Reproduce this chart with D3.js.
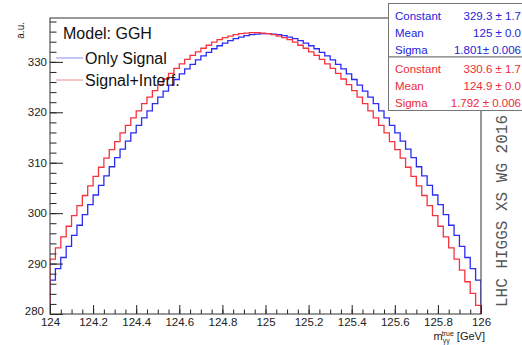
<!DOCTYPE html>
<html>
<head>
<meta charset="utf-8">
<script src="https://cdn.jsdelivr.net/npm/d3@7"></script>
<style>
  body { margin: 0; background: #fff; }
  svg { display: block; font-family: "Liberation Sans", Arial, Helvetica, sans-serif; }
</style>
</head>
<body>
<div id="chart"></div>
<script>
/* m_gg lineshape, GGH: only signal vs signal + interference */

// 80 bins of 0.025 GeV from 124 to 126
const onlySignal = [
  286.7, 289.0, 291.2, 293.4, 295.6, 297.6, 299.7, 301.7, 303.6, 305.5,
  307.4, 309.2, 311.0, 312.7, 314.3, 315.9, 317.4, 318.9, 320.3, 321.7,
  323.0, 324.2, 325.4, 326.5, 327.6, 328.6, 329.5, 330.4, 331.2, 331.9,
  332.6, 333.2, 333.7, 334.2, 334.6, 334.9, 335.2, 335.4, 335.5, 335.6,
  335.6, 335.5, 335.4, 335.2, 334.9, 334.6, 334.2, 333.7, 333.2, 332.6,
  331.9, 331.2, 330.4, 329.5, 328.6, 327.6, 326.5, 325.4, 324.2, 323.0,
  321.7, 320.3, 318.9, 317.4, 315.9, 314.3, 312.7, 311.0, 309.2, 307.4,
  305.5, 303.6, 301.7, 299.7, 297.6, 295.6, 293.4, 291.2, 289.0, 286.7
];
const signalInterf = [
  290.9, 293.1, 295.3, 297.4, 299.5, 301.5, 303.5, 305.4, 307.3, 309.1,
  310.9, 312.6, 314.2, 315.9, 317.4, 318.9, 320.3, 321.7, 323.0, 324.3,
  325.5, 326.6, 327.7, 328.7, 329.6, 330.5, 331.3, 332.0, 332.7, 333.3,
  333.9, 334.4, 334.8, 335.1, 335.4, 335.6, 335.7, 335.8, 335.8, 335.7,
  335.6, 335.4, 335.1, 334.8, 334.4, 333.9, 333.3, 332.7, 332.0, 331.3,
  330.5, 329.6, 328.7, 327.7, 326.6, 325.5, 324.3, 323.0, 321.7, 320.3,
  318.9, 317.4, 315.9, 314.2, 312.6, 310.9, 309.1, 307.3, 305.4, 303.5,
  301.5, 299.5, 297.4, 295.3, 293.1, 290.9, 288.7, 286.4, 284.1, 281.7
];

const xMin = 124, xMax = 126, binWidth = 0.025;
const yMin = 280, yMax = 338.7;
const xMajorTicks = [124, 124.2, 124.4, 124.6, 124.8, 125, 125.2, 125.4, 125.6, 125.8, 126];
const yMajorTicks = [280, 290, 300, 310, 320, 330];

const statsLabels = ["Constant", "Mean", "Sigma"];
const statsSignal = ["329.3 ± 1.7", "125 ± 0.0", "1.801± 0.006"];
const statsInterf = ["330.6 ± 1.7", "124.9 ± 0.0", "1.792 ± 0.006"];

const width = 522, height = 345,
    margin = ({ top: 18, right: 41, bottom: 31, left: 50 });

const blue = "#2b2bf5", red = "#f5333f";

const svg = d3.select("#chart")
    .append("svg")
    .attr("width", width)
    .attr("height", height);

let x = d3.scaleLinear()
    .domain([xMin, xMax])
    .range([margin.left, width - margin.right]);

let y = d3.scaleLinear()
    .domain([yMin, yMax])
    .range([height - margin.bottom, margin.top]);

svg.append("clipPath").attr("id", "plot")
  .append("rect")
    .attr("x", x(xMin)).attr("y", y(yMax))
    .attr("width", x(xMax) - x(xMin))
    .attr("height", y(yMin) - y(yMax));

// histogram outline: drop to the baseline at both ends, steps in between
function outline(vals) {
    let pts = [[xMin, yMin]];
    vals.forEach((v, i) => pts.push([xMin + i * binWidth, v]));
    pts.push([xMax, vals[vals.length - 1]]);
    pts.push([xMax, yMin]);
    return pts;
}

let line = d3.line()
    .x(d => x(d[0]))
    .y(d => y(d[1]))
    .curve(d3.curveStepAfter);

const hists = svg.append("g").attr("clip-path", "url(#plot)");

hists.append("path")
    .datum(outline(onlySignal))
    .attr("d", line)
    .attr("fill", "none")
    .attr("stroke", blue)
    .attr("stroke-width", 1.3);

hists.append("path")
    .datum(outline(signalInterf))
    .attr("d", line)
    .attr("fill", "none")
    .attr("stroke", red)
    .attr("stroke-width", 1.3);

// axes: ticks point inward like ROOT
const xMinor = d3.range(0, 41).map(i => xMin + i * 0.05);
const yMinor = d3.range(0, 30).map(i => yMin + i * 2);

svg.append("g")
    .attr("transform", `translate(0,${y(yMin)})`)
    .call(d3.axisBottom(x).tickValues(xMinor).tickSize(-4.5).tickFormat(""))
    .call(g => g.select(".domain").remove());

svg.append("g")
    .attr("class", "x-axis")
    .attr("transform", `translate(0,${y(yMin)})`)
    .call(d3.axisBottom(x).tickValues(xMajorTicks).tickSize(-9).tickPadding(4)
        .tickFormat(d => d3.format("")(+d.toFixed(1))))
    .call(g => g.select(".domain").remove());

svg.append("g")
    .attr("transform", `translate(${x(xMin)},0)`)
    .call(d3.axisLeft(y).tickValues(yMinor).tickSize(-6.5).tickFormat(""))
    .call(g => g.select(".domain").remove());

svg.append("g")
    .attr("class", "y-axis")
    .attr("transform", `translate(${x(xMin)},0)`)
    .call(d3.axisLeft(y).tickValues(yMajorTicks).tickSize(-13).tickPadding(3))
    .call(g => g.select(".domain").remove());

svg.selectAll(".x-axis text, .y-axis text")
    .attr("font-size", 11.5)
    .attr("font-family", "Liberation Sans, Arial, sans-serif")
    .attr("fill", "#222");
svg.selectAll(".tick line").attr("stroke", "#222");

// the lowest y label sits just above the "124" label
svg.selectAll(".y-axis .tick text")
    .filter(d => d === yMin)
    .attr("dy", "0.05em")
    .attr("x", -6);

// frame
svg.append("rect")
    .attr("x", x(xMin)).attr("y", y(yMax))
    .attr("width", x(xMax) - x(xMin))
    .attr("height", y(yMin) - y(yMax))
    .attr("fill", "none")
    .attr("stroke", "#333")
    .attr("stroke-width", 1);

// axis titles
const xt = svg.append("text")
    .attr("x", x(xMax) + 4)
    .attr("y", 340)
    .attr("text-anchor", "end")
    .attr("font-size", 11)
    .attr("fill", "#222");
xt.append("tspan").text("m");
xt.append("tspan").attr("font-size", 7).attr("dy", 2.5).text("γγ");
xt.append("tspan").attr("font-size", 7).attr("dx", -8).attr("dy", -7).text("true");
xt.append("tspan").attr("dy", 4.5).text(" [GeV]");

svg.append("text")
    .attr("transform", "translate(24,22) rotate(-90)")
    .attr("text-anchor", "end")
    .attr("font-size", 10)
    .attr("fill", "#222")
    .text("a.u.");

// legend
svg.append("text")
    .attr("x", 63).attr("y", 38.5)
    .attr("font-size", 16).attr("fill", "#111")
    .text("Model: GGH");

const legend = [
    { label: "Only Signal", color: "#8a8af0", y: 58 },
    { label: "Signal+Interf.", color: "#f08a90", y: 80 }
];
legend.forEach(d => {
    svg.append("line")
        .attr("x1", 56).attr("x2", 83)
        .attr("y1", d.y).attr("y2", d.y)
        .attr("stroke", d.color).attr("stroke-width", 1);
    svg.append("text")
        .attr("x", 85).attr("y", d.y + 5.5)
        .attr("font-size", 16).attr("fill", "#111")
        .text(d.label);
});

// stats boxes
function statsBox(top, labels, vals, color) {
    svg.append("rect")
        .attr("x", 388.5).attr("y", top)
        .attr("width", 140).attr("height", 53.5)
        .attr("fill", "#fff")
        .attr("stroke", "#777").attr("stroke-width", 1);
    labels.forEach((l, i) => {
        svg.append("text")
            .attr("x", 395).attr("y", top + 16 + i * 17)
            .attr("font-size", 11.5).attr("fill", color)
            .text(l);
        svg.append("text")
            .attr("x", 521).attr("y", top + 16 + i * 17)
            .attr("text-anchor", "end")
            .attr("font-size", 11.5).attr("fill", color)
            .text(vals[i]);
    });
}
statsBox(3.5, statsLabels, statsSignal, "#2424d8");
statsBox(57, statsLabels, statsInterf, "#ee2a36");

// watermark
svg.append("text")
    .attr("transform", "translate(507,307) rotate(-90)")
    .attr("font-family", "Liberation Mono, DejaVu Sans Mono, monospace")
    .attr("font-size", 16)
    .attr("fill", "#555")
    .text("LHC HIGGS XS WG 2016");
</script>
</body>
</html>
